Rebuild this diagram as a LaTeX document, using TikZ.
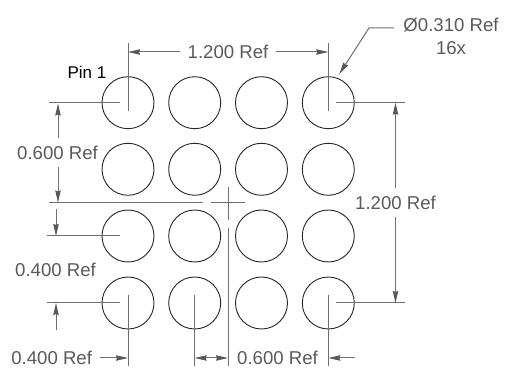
\documentclass[tikz,border=0pt]{standalone}
\usepackage{fontspec}
\setmainfont{Liberation Sans}
\usetikzlibrary{arrows.meta}
\definecolor{dimgrey}{HTML}{707070}
\definecolor{tipgrey}{HTML}{585858}
\definecolor{txtgrey}{HTML}{5A5A5A}
\tikzset{
  hole/.style={circle,draw=black!85,line width=0.9pt,minimum size=52pt,inner sep=0pt,outer sep=0pt},
  extline/.style={draw=dimgrey,line width=1pt},
  dimline/.style={draw=dimgrey,line width=1pt,-{Stealth[length=12pt,width=5.4pt,inset=1pt,color=tipgrey,fill=tipgrey]}},
  dimlabel/.style={text=txtgrey,font=\fontsize{18.6}{22}\selectfont,outer sep=0pt,inner sep=0pt,minimum width=96pt,minimum height=29pt},
  leadlabel/.style={text=txtgrey,font=\fontsize{18.6}{22}\selectfont,inner sep=0pt},
  pinlabel/.style={text=black,font=\fontsize{17}{20}\selectfont,inner sep=0pt}
}
\begin{document}
\begin{tikzpicture}[x=1pt,y=-1pt]
\useasboundingbox (0,0) rectangle (515,371);
\fill[white] (0,0) rectangle (515,371);
% holes
\foreach \r/\y in {1/102.7,2/169.3,3/236,4/303}
  \foreach \c/\x in {1/128,2/194.7,3/261.5,4/328.3}
    \node[hole] (h\r\c) at (\x,\y) {};
% labels
\node[pinlabel] (pin) at (87,72) {Pin 1};
\node[dimlabel] (top) at (228,52) {1.200 Ref};
\node[dimlabel] (l06) at (57.5,153) {0.600 Ref};
\node[dimlabel] (l04) at (55.5,270) {0.400 Ref};
\node[dimlabel] (b04) at (51.7,358) {0.400 Ref};
\node[dimlabel] (b06) at (277.5,358) {0.600 Ref};
\node[dimlabel] (r12) at (395.5,203) {1.200 Ref};
\node[leadlabel] (dia) at (451,25) {Ø0.310 Ref};
\node[leadlabel] (cnt) at (451,48) {16x};
% centre mark
\coordinate (ctr) at (228,203);
\draw[extline] ([xshift=-17]ctr) -- ([xshift=17]ctr);
\draw[extline] ([yshift=-17]ctr) -- ([yshift=16]ctr);
% top dimension
\coordinate (t1) at (128,43);
\coordinate (t4) at (328.3,43);
\draw[extline] (t1) -- ([yshift=-8.7]h11.center);
\draw[extline] (t4) -- ([yshift=-8.7]h14.center);
\draw[dimline] (top.west) -- (top.west -| t1);
\draw[dimline] (top.east) -- (top.east -| t4);
% left dimension upper
\coordinate (a1) at (49,102.7);
\coordinate (a2) at (49,203);
\coordinate (a3) at (203,203);
\draw[extline] (a1) -- ([xshift=-8]h11.center);
\draw[extline] (a2) -- (a3);
\draw[dimline] (l06.north) ++(0.5,0) -- ++(0,-35);
\draw[dimline] (l06.south) ++(0.5,0) -- ++(0,35);
% left dimension lower
\coordinate (c1) at (47,236);
\coordinate (c2) at (47,303);
\coordinate (c3) at (56,209);
\coordinate (c4) at (56,330);
\draw[extline] (c1) -- ([xshift=-8]h31.center);
\draw[extline] (c2) -- ([xshift=-8]h41.center);
\draw[dimline] (c3) -- (c3 |- c1);
\draw[dimline] (c4) -- (c4 |- c2);
% bottom extensions
\coordinate (e1) at (128,366);
\coordinate (e2) at (194.7,366);
\coordinate (e3) at (228,366);
\coordinate (e4) at (328.3,366);
\coordinate (e3t) at (228,228);
\draw[extline] ([yshift=8]h41.center) -- (e1);
\draw[extline] ([yshift=8]h42.center) -- (e2);
\draw[extline] (e3t) -- (e3);
\draw[extline] ([yshift=8]h44.center) -- (e4);
\draw[dimline] (b04.east) -- (b04.east -| e1);
\coordinate (m) at (211.3,358);
\draw[dimline] (m) -- (m -| e2);
\draw[dimline] (m) -- (m -| e3);
\coordinate (n) at (355,358);
\draw[dimline] (n) -- (n -| e4);
% right dimension
\coordinate (r1) at (405,102.7);
\coordinate (r2) at (405,303);
\draw[extline] ([xshift=8]h14.center) -- (r1);
\draw[extline] ([xshift=8]h44.center) -- (r2);
\draw[dimline] (r12.north) -- (r12.north |- r1);
\draw[dimline] (r12.south) -- (r12.south |- r2);
% leader
\coordinate (ld1) at (394,28);
\coordinate (ld2) at (369,28);
\coordinate (ld3) at (339.3,74);
\draw[dimline] (ld1) -- (ld2) -- (ld3);
\end{tikzpicture}
\end{document}
